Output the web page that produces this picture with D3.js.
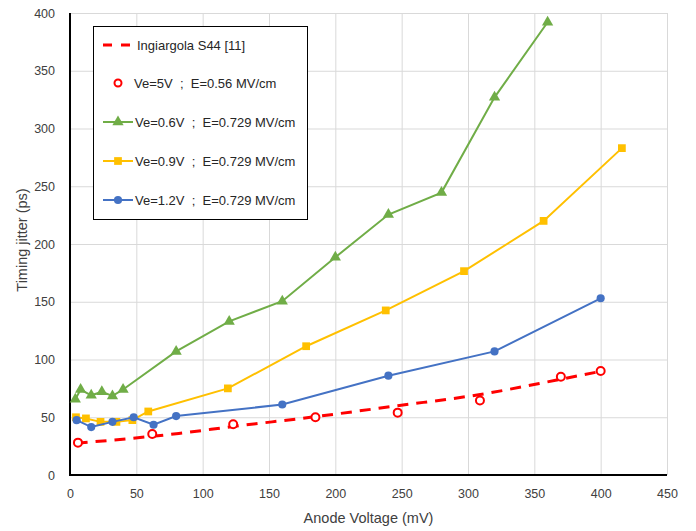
<!DOCTYPE html>
<html>
<head>
<meta charset="utf-8">
<script src="https://cdn.jsdelivr.net/npm/d3@7"></script>
<style>
  body { margin: 0; background: #fff; }
  svg { font-family: "Liberation Sans", Arial, sans-serif; }
  .grid line { stroke: #d9d9d9; stroke-width: 1; }
  .grid path { display: none; }
  .tick text { fill: #404040; font-size: 12.5px; }
  .axis-title { fill: #404040; font-size: 14.5px; }
  .legend text { fill: #262626; font-size: 13px; white-space: pre; }
</style>
</head>
<body>
<svg id="chart" width="696" height="531"></svg>
<script>
// ticks
const xTicks = [0, 50, 100, 150, 200, 250, 300, 350, 400, 450];
const yTicks = [0, 50, 100, 150, 200, 250, 300, 350, 400];

// Ingiargola S44 [11] (dashed reference)
const refX = [5, 82, 123, 185, 247, 308, 366, 401];
const refY = [27.5, 36, 42, 50.5, 60, 69.5, 82, 90];

// Ve=5V ; E=0.56 MV/cm
const ve5X = [6, 62, 123, 185, 247, 309, 370, 400];
const ve5Y = [28, 35.5, 44, 50, 54, 64.5, 85, 90];

// Ve=0.6V
const ve06X = [4, 8, 16, 24, 32, 40, 80, 120, 160, 200, 240, 280, 320, 360];
const ve06Y = [65.5, 74, 69, 72, 68.5, 74, 107, 133, 150.5, 188.5, 225.5, 244.5, 327, 392];

// Ve=0.9V
const ve09X = [4.5, 12, 23, 35, 47, 59, 119, 178, 238, 297, 357, 416];
const ve09Y = [50, 49, 46, 46, 47.5, 55, 75, 111.5, 142.5, 176.5, 220, 283];

// Ve=1.2V
const ve12X = [5, 16, 32, 48, 63, 80, 160, 240, 320, 400];
const ve12Y = [47.5, 41.5, 46, 50, 43.5, 51, 61, 86, 107, 153];

const legendLabels = [
  "Ingiargola S44 [11]",
  "Ve=5V  ;  E=0.56 MV/cm",
  "Ve=0.6V  ;  E=0.729 MV/cm",
  "Ve=0.9V  ;  E=0.729 MV/cm",
  "Ve=1.2V  ;  E=0.729 MV/cm"
];

const red = "#ff0000", green = "#70ad47", yellow = "#ffc000", blue = "#4472c4";

const plotLeft = 70, plotTop = 13, plotRight = 667, plotBottom = 475;
const width = plotRight - plotLeft, height = plotBottom - plotTop;

const svg = d3.select("#chart");
const chart = svg.append("g").attr("transform", `translate(${plotLeft}, ${plotTop})`);

const x = d3.scaleLinear().domain([0, 450]).range([0, width]);
const y = d3.scaleLinear().domain([0, 400]).range([height, 0]);

const zip = (xs, ys) => xs.map((v, i) => [v, ys[i]]);

// gridlines
chart.append("g")
  .attr("class", "grid")
  .call(d3.axisLeft(y).tickValues(yTicks).tickSize(-width).tickFormat(""));
chart.append("g")
  .attr("class", "grid")
  .attr("transform", `translate(0, ${height})`)
  .call(d3.axisBottom(x).tickValues(xTicks).tickSize(-height).tickFormat(""));

// tick labels
const yAxis = chart.append("g")
  .call(d3.axisLeft(y).tickValues(yTicks).tickSize(0).tickPadding(15));
yAxis.select(".domain").remove();
const xAxis = chart.append("g")
  .attr("transform", `translate(0, ${height})`)
  .call(d3.axisBottom(x).tickValues(xTicks).tickSize(0).tickPadding(14));
xAxis.select(".domain").remove();

// black axis lines
chart.append("line")
  .attr("x1", 0).attr("x2", 0).attr("y1", 0).attr("y2", height)
  .attr("stroke", "#000").attr("stroke-width", 2);
chart.append("line")
  .attr("x1", -1).attr("x2", width).attr("y1", height).attr("y2", height)
  .attr("stroke", "#000").attr("stroke-width", 2);

const smooth = d3.line().x(d => x(d[0])).y(d => y(d[1])).curve(d3.curveMonotoneX);
const plain = d3.line().x(d => x(d[0])).y(d => y(d[1]));

// reference dashed line
chart.append("path")
  .datum(zip(refX, refY))
  .attr("fill", "none")
  .attr("stroke", red)
  .attr("stroke-width", 3)
  .attr("stroke-dasharray", "11,8")
  .attr("d", smooth);

// Ve=5V hollow circles
chart.append("g")
  .selectAll("circle")
  .data(zip(ve5X, ve5Y))
  .join("circle")
  .attr("cx", d => x(d[0]))
  .attr("cy", d => y(d[1]))
  .attr("r", 4)
  .attr("fill", "#fff")
  .attr("stroke", red)
  .attr("stroke-width", 2);

function series(xs, ys, color, symbolType, size) {
  const pts = zip(xs, ys);
  chart.append("path")
    .datum(pts)
    .attr("fill", "none")
    .attr("stroke", color)
    .attr("stroke-width", 2)
    .attr("d", plain);
  chart.append("g")
    .selectAll("path")
    .data(pts)
    .join("path")
    .attr("transform", d => `translate(${x(d[0])}, ${y(d[1])})`)
    .attr("d", d3.symbol().type(symbolType).size(size))
    .attr("fill", color);
}

series(ve06X, ve06Y, green, d3.symbolTriangle, 55);
series(ve09X, ve09Y, yellow, d3.symbolSquare, 60);
series(ve12X, ve12Y, blue, d3.symbolCircle, 52);

// axis titles
svg.append("text")
  .attr("class", "axis-title")
  .attr("x", plotLeft + width / 2)
  .attr("y", 523)
  .attr("text-anchor", "middle")
  .text("Anode Voltage (mV)");

svg.append("text")
  .attr("class", "axis-title")
  .attr("transform", `translate(27, ${plotTop + height / 2 - 4}) rotate(-90)`)
  .attr("text-anchor", "middle")
  .text("Timing jitter (ps)");

// legend
const legend = svg.append("g").attr("class", "legend");
legend.append("rect")
  .attr("x", 93.5).attr("y", 26.5)
  .attr("width", 214).attr("height", 193)
  .attr("fill", "#fff")
  .attr("stroke", "#000")
  .attr("stroke-width", 1);

const rowY = [45, 83, 122, 161, 200];
const items = legend.selectAll("g.item")
  .data(legendLabels)
  .join("g")
  .attr("class", "item")
  .attr("transform", (d, i) => `translate(0, ${rowY[i]})`);

items.append("text")
  .attr("x", (d, i) => i === 0 ? 137 : (i === 1 ? 134 : 135))
  .attr("y", 4.5)
  .text(d => d);

// legend symbols
items.filter((d, i) => i === 0).append("line")
  .attr("x1", 103).attr("x2", 133).attr("y1", 0).attr("y2", 0)
  .attr("stroke", red).attr("stroke-width", 3)
  .attr("stroke-dasharray", "9,9");

items.filter((d, i) => i === 1).append("circle")
  .attr("cx", 118).attr("cy", 0).attr("r", 3.5)
  .attr("fill", "#fff").attr("stroke", red).attr("stroke-width", 2);

const legendSeries = [
  [2, green, d3.symbolTriangle, 55],
  [3, yellow, d3.symbolSquare, 60],
  [4, blue, d3.symbolCircle, 52]
];
legendSeries.forEach(([idx, color, type, size]) => {
  const g = items.filter((d, i) => i === idx);
  g.append("line")
    .attr("x1", 103).attr("x2", 133).attr("y1", 0).attr("y2", 0)
    .attr("stroke", color).attr("stroke-width", 2);
  g.append("path")
    .attr("transform", "translate(118, 0)")
    .attr("d", d3.symbol().type(type).size(size))
    .attr("fill", color);
});
</script>
</body>
</html>
